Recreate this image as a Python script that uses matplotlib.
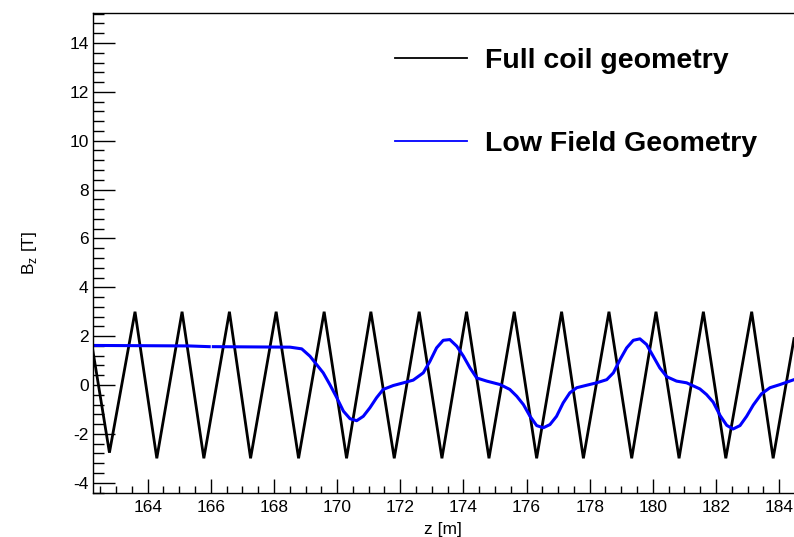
import numpy as np
import matplotlib
matplotlib.use("Agg")
import matplotlib.pyplot as plt
from matplotlib.ticker import MultipleLocator
from matplotlib.lines import Line2D

plt.rcParams['font.family'] = ['Liberation Sans', 'DejaVu Sans']
plt.rcParams['axes.unicode_minus'] = False

# Full coil geometry (vertices of the triangular field profile)
z_full = [162.26, 162.79, 163.60, 164.29, 165.09, 165.78, 166.59, 167.26, 168.07,
          168.78, 169.59, 170.30, 171.07, 171.81, 172.60, 173.32, 174.10, 174.81,
          175.61, 176.32, 177.11, 177.80, 178.61, 179.33, 180.10, 180.83, 181.60,
          182.31, 183.13, 183.81, 184.47]
B_full = [1.45, -2.77, 3.0, -3.0, 3.0, -3.0, 3.0, -3.0, 3.0,
          -3.0, 3.0, -3.0, 3.0, -3.0, 3.0, -3.0, 3.0, -3.0,
          3.0, -3.0, 3.0, -3.0, 3.0, -3.0, 3.0, -3.0, 3.0,
          -3.0, 3.0, -3.0, 1.9]

# Low field geometry
z_low = [162.26, 165.30, 165.95, np.nan, 166.08, 168.51, 168.88, 169.14, 169.35,
         169.56, 169.77, 169.99, 170.20, 170.41, 170.62, 170.83, 171.04, 171.25,
         171.46, 171.78, 172.10, 172.41, 172.73, 172.94, 173.15, 173.36, 173.57,
         173.79, 174.00, 174.21, 174.42, 174.74, 175.16, 175.47, 175.69, 175.90,
         176.11, 176.32, 176.53, 176.74, 176.95, 177.16, 177.37, 177.59, 177.90,
         178.22, 178.54, 178.75, 178.96, 179.17, 179.38, 179.59, 179.80, 180.01,
         180.22, 180.44, 180.75, 181.07, 181.49, 181.70, 181.91, 182.13, 182.34,
         182.54, 182.76, 182.97, 183.18, 183.44, 183.71, 184.03, 184.47]
B_low = [1.62, 1.60, 1.57, np.nan, 1.57, 1.55, 1.48, 1.18, 0.84,
         0.50, 0.02, -0.52, -1.07, -1.38, -1.46, -1.28, -0.93, -0.52,
         -0.18, -0.02, 0.09, 0.20, 0.50, 0.97, 1.52, 1.83, 1.86,
         1.59, 1.18, 0.70, 0.29, 0.16, 0.02, -0.18, -0.46, -0.80,
         -1.28, -1.66, -1.75, -1.62, -1.28, -0.73, -0.32, -0.11, -0.01,
         0.09, 0.22, 0.50, 1.04, 1.52, 1.83, 1.89, 1.66, 1.18,
         0.70, 0.34, 0.16, 0.09, -0.16, -0.39, -0.70, -1.25, -1.65,
         -1.80, -1.66, -1.28, -0.82, -0.36, -0.11, 0.02, 0.22]

labels = ["Full coil geometry", "Low Field Geometry"]

fig = plt.figure(figsize=(7.94, 5.37), dpi=100)
ax = fig.add_axes([92.7/794, 1 - 493/537, 1 - 92.7/794, (493 - 12.7)/537])

ax.plot(z_full, B_full, color='black', lw=2.0, solid_joinstyle='miter')
ax.plot(z_low, B_low, color='#0000ff', lw=2.2, solid_joinstyle='round')

ax.set_xlim(162.26, 184.47)
ax.set_ylim(-4.42, 15.24)

ax.xaxis.set_major_locator(MultipleLocator(2))
ax.xaxis.set_minor_locator(MultipleLocator(0.5))
ax.yaxis.set_major_locator(MultipleLocator(2))
ax.yaxis.set_minor_locator(MultipleLocator(0.4))

ax.tick_params(axis='y', which='major', direction='in', length=16, width=1, labelsize=12.5, pad=3)
ax.tick_params(axis='y', which='minor', direction='in', length=8, width=1)
ax.tick_params(axis='x', which='major', direction='in', length=10, width=1, labelsize=12.5, pad=5)
ax.tick_params(axis='x', which='minor', direction='in', length=5, width=1)
ax.tick_params(top=False, right=False, which='both')

for s in ['left', 'bottom', 'top']:
    ax.spines[s].set_linewidth(1.0)
ax.spines['right'].set_visible(False)

ax.set_xlabel("z [m]", fontsize=12.5, labelpad=5)
ax.set_ylabel(r"B$_\mathregular{z}$ [T]", fontsize=12.5, labelpad=22)

h1 = Line2D([], [], color='black', lw=1.3)
h2 = Line2D([], [], color='#0000ff', lw=1.3)
ax.legend([h1, h2], labels, loc='upper left', bbox_to_anchor=(395/794, 1 - 48/537),
          bbox_transform=fig.transFigure, frameon=False,
          prop={'weight': 'bold', 'size': 20.5}, handlelength=2.53,
          handletextpad=0.63, labelspacing=2.0, borderpad=0, borderaxespad=0)

fig.savefig("out.png", dpi=100)
